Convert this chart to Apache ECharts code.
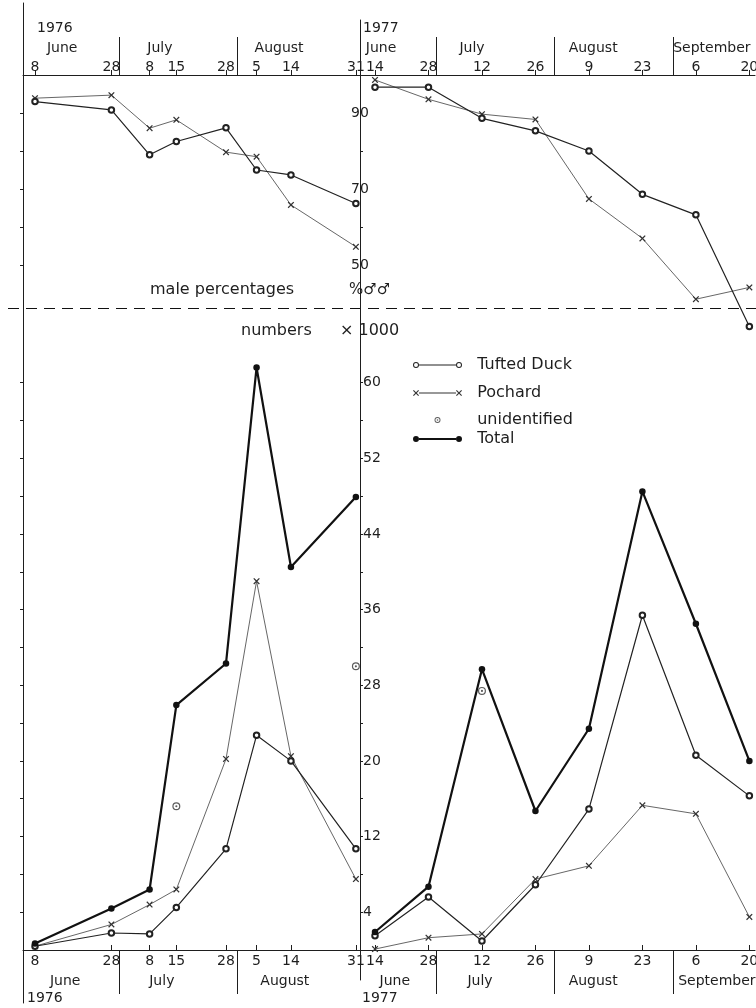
<!DOCTYPE html>
<html><head><meta charset="utf-8">
<script src="https://cdn.jsdelivr.net/npm/echarts@6/dist/echarts.min.js"></script>
<style>html,body{margin:0;padding:0;background:#fff}#chart{width:756px;height:1008px}</style>
</head><body><div id="chart"></div>
<script>
// ---------------- data ----------------
const dates1976 = ['1976-06-08','1976-06-28','1976-07-08','1976-07-15','1976-07-28','1976-08-05','1976-08-14','1976-08-31'];
const dates1977 = ['1977-06-14','1977-06-28','1977-07-12','1977-07-26','1977-08-09','1977-08-23','1977-09-06','1977-09-20'];

// male percentages
const male1976Tufted  = [93.0, 90.8, 79.0, 82.5, 86.1, 75.0, 73.7, 66.2];
const male1976Pochard = [93.9, 94.7, 86.0, 88.2, 79.7, 78.5, 65.8, 54.8];
const male1977Tufted  = [96.8, 96.8, 88.6, 85.3, 80.0, 68.6, 63.2, 33.8];
const male1977Pochard = [98.7, 93.6, 89.7, 88.3, 67.4, 57.0, 41.0, 44.1];

// numbers x 1000
const num1976Tufted  = [0.4, 1.8, 1.7, 4.5, 10.7, 22.7, 20.0, 10.7];
const num1976Pochard = [0.4, 2.7, 4.8, 6.4, 20.2, 39.0, 20.5, 7.5];
const num1976Total   = [0.7, 4.4, 6.4, 25.9, 30.3, 61.6, 40.5, 47.9];
const unidDates1976  = ['1976-07-15','1976-08-31'];
const unidValues1976 = [15.2, 30.0];

const num1977Tufted  = [1.5, 5.6, 0.95, 6.9, 14.9, 35.4, 20.6, 16.3];
const num1977Pochard = [0.1, 1.3, 1.7, 7.5, 8.9, 15.3, 14.4, 3.5];
const num1977Total   = [1.9, 6.7, 29.7, 14.7, 23.4, 48.5, 34.5, 20.0];
const unidDates1977  = ['1977-07-12'];
const unidValues1977 = [27.4];

// month-end separators
const monthEnds1976 = ['1976-06-30','1976-07-31'];
const monthEnds1977 = ['1977-06-30','1977-07-31','1977-08-31'];
const MONTH_NAMES = ['January','February','March','April','May','June','July','August','September','October','November','December'];

// tick labels
const pctTickLabels = [50, 70, 90];
const numTickLabels = [4, 12, 20, 28, 36, 44, 52, 60];

// ---------------- helpers ----------------
const FONT = 'DejaVu Sans';
const INK = '#1e1e1e';
const PX = 3.82; // px per day
function dayOf(s){ const p = s.split('-').map(Number); return (Date.UTC(p[0],p[1]-1,p[2]) - Date.UTC(p[0],5,1))/86400000; }
function dateOfDay(year, v){ return new Date(Date.UTC(year,5,1) + Math.round(v)*86400000); }
const days1976 = dates1976.map(dayOf);
const days1977 = dates1977.map(dayOf);
const zip = (xs, ys) => xs.map((x,i)=>[x, ys[i]]);

// layout
const L76 = 23, W76 = 337, L77 = 360, W77 = 395;
const min76 = days1976[0] - 12/PX, max76 = min76 + W76/PX;
const min77 = days1977[0] - 15/PX, max77 = min77 + W77/PX;
const monthLabelTop76 = [14.1, 39.7, 70.9];
const monthLabelBot76 = [14.9, 40.2, 72.4];
const monthLabelTop77 = [14.6, 38.4, 70.1, 101.2];
const monthLabelBot77 = [18.2, 40.5, 70.1, 102.5];

function daysAxis(gridIndex, position, year, min, max, days){
  return {type:'value', gridIndex, position, min, max,
    axisLine:{show:true, onZero:false, lineStyle:{color:INK, width:1}},
    axisTick:{show:true, customValues:days, length:5, inside: position==='bottom', lineStyle:{color:INK, width:1}},
    axisLabel:{show:true, customValues:days, margin: position==='top'?1:4, color:INK, fontFamily:FONT, fontSize:14,
      formatter: v => String(dateOfDay(year, v).getUTCDate())},
    splitLine:{show:false}};
}
function monthAxis(gridIndex, position, year, min, max, seps, labelDays){
  const top = position==='top';
  return {type:'value', gridIndex, position, min, max,
    axisLine:{show:false, onZero:false},
    axisTick:{show:true, customValues:seps.map(dayOf), length: top?38:44, inside:false, lineStyle:{color:INK, width:1}},
    axisLabel:{show:true, customValues:labelDays, margin: top?20:24, color:INK, fontFamily:FONT, fontSize:14,
      formatter: v => MONTH_NAMES[dateOfDay(year, v).getUTCMonth()]},
    splitLine:{show:false}};
}
function hiddenX(gridIndex){ return {type:'value', gridIndex, min:0, max:1, show:false}; }
function frameY(gridIndex){ return {type:'value', gridIndex, min:0, max:1, position:'left',
  axisLine:{show:true, onZero:false, lineStyle:{color:INK, width:1}}, axisTick:{show:false}, axisLabel:{show:false}, splitLine:{show:false}}; }

const X_SYM = 'path://M0,0.8L0.8,0L3,2.2L5.2,0L6,0.8L3.8,3L6,5.2L5.2,6L3,3.8L0.8,6L0,5.2L2.2,3Z';
const UNID_SYM = 'path://M3,0A3,3 0 1 1 3,6A3,3 0 1 1 3,0ZM3,0.9A2.1,2.1 0 1 0 3,5.1A2.1,2.1 0 1 0 3,0.9ZM3,2.2A0.8,0.8 0 1 1 3,3.8A0.8,0.8 0 1 1 3,2.2Z';

function xAt(ox){ return `M${ox},0.8L${ox+0.8},0L${ox+3},2.2L${ox+5.2},0L${ox+6},0.8L${ox+3.8},3L${ox+6},5.2L${ox+5.2},6L${ox+3},3.8L${ox+0.8},6L${ox},5.2L${ox+2.2},3Z`; }
function ringAt(cx){ return `M${cx},0A3,3 0 1 1 ${cx},6A3,3 0 1 1 ${cx},0ZM${cx},1A2,2 0 1 0 ${cx},5A2,2 0 1 0 ${cx},1Z`; }
function dotAt(cx){ return `M${cx},0A3,3 0 1 1 ${cx},6A3,3 0 1 1 ${cx},0Z`; }
const ICON_TUFTED = 'path://' + ringAt(3) + 'M6,2.4L43,2.4L43,3.6L6,3.6Z' + ringAt(46);
const ICON_POCHARD = 'path://' + xAt(0) + 'M6,2.6L43,2.6L43,3.4L6,3.4Z' + xAt(43);
const ICON_TOTAL = 'path://' + dotAt(3) + 'M6,2L43,2L43,4L6,4Z' + dotAt(46);
const ICON_UNID = 'path://M0,3L0,3ZM49,3L49,3Z' +
  'M24.5,0A3,3 0 1 1 24.5,6A3,3 0 1 1 24.5,0ZM24.5,0.9A2.1,2.1 0 1 0 24.5,5.1A2.1,2.1 0 1 0 24.5,0.9Z' +
  'M24.5,2.2A0.8,0.8 0 1 1 24.5,3.8A0.8,0.8 0 1 1 24.5,2.2Z';

const C_TUF = '#222', C_POC = '#555', C_TOT = '#111';
function tufted(xi, yi, data){ return {name:'Tufted Duck', type:'line', xAxisIndex:xi, yAxisIndex:yi, data,
  symbol:'emptyCircle', symbolSize:5.5, lineStyle:{color:C_TUF, width:1.2}, itemStyle:{color:C_TUF, borderWidth:1}, z:3}; }
function pochard(xi, yi, data){ return {name:'Pochard', type:'line', xAxisIndex:xi, yAxisIndex:yi, data,
  symbol:X_SYM, symbolSize:6.5, lineStyle:{color:C_POC, width:0.9}, itemStyle:{color:'#333', borderWidth:0}, z:2}; }
function total(xi, yi, data){ return {name:'Total', type:'line', xAxisIndex:xi, yAxisIndex:yi, data,
  symbol:'circle', symbolSize:6.5, lineStyle:{color:C_TOT, width:2.2}, itemStyle:{color:C_TOT, borderWidth:0}, z:4}; }
function unid(xi, yi, data){ return {name:'unidentified', type:'scatter', xAxisIndex:xi, yAxisIndex:yi, data,
  symbol:UNID_SYM, symbolSize:8, itemStyle:{color:'#333', borderWidth:0}, z:4}; }

function legendItem(name, icon, top){
  return {data:[{name, icon}], orient:'vertical', left:413, top, padding:0, itemWidth:49, itemHeight:6, itemGap:0,
    selectedMode:false, itemStyle:{borderWidth:0}, textStyle:{fontFamily:FONT, fontSize:16, color:INK},
    formatter: n => '  ' + n};
}
function txt(text, x, y, size){ return {type:'text', x, y, style:{text, fill:INK, font:`${size}px "${FONT}"`, verticalAlign:'middle', align:'left'}}; }

const gridBase = {show:false, containLabel:false, outerBoundsMode:'none'};
const option = {
  backgroundColor:'#ffffff',
  animation:false,
  grid:[
    Object.assign({left:L76, top:75, width:W76, height:266}, gridBase),
    Object.assign({left:L77, top:75, width:W77, height:266}, gridBase),
    Object.assign({left:L76, top:307, width:W76, height:643}, gridBase),
    Object.assign({left:L77, top:307, width:W77, height:643}, gridBase),
    Object.assign({left:L76, top:3, width:W76, height:1000}, gridBase),
    Object.assign({left:L77, top:20, width:W77, height:960}, gridBase)
  ],
  xAxis:[
    daysAxis(0,'top',1976,min76,max76,days1976),
    monthAxis(0,'top',1976,min76,max76,monthEnds1976,monthLabelTop76),
    daysAxis(1,'top',1977,min77,max77,days1977),
    monthAxis(1,'top',1977,min77,max77,monthEnds1977,monthLabelTop77),
    daysAxis(2,'bottom',1976,min76,max76,days1976),
    monthAxis(2,'bottom',1976,min76,max76,monthEnds1976,monthLabelBot76),
    daysAxis(3,'bottom',1977,min77,max77,days1977),
    monthAxis(3,'bottom',1977,min77,max77,monthEnds1977,monthLabelBot77),
    hiddenX(4), hiddenX(5)
  ],
  yAxis:[
    {type:'value', gridIndex:0, min:30, max:100, position:'left', axisLine:{show:false, onZero:false},
      axisTick:{show:true, customValues:[50,60,70,80,90], length:3, lineStyle:{color:INK}}, axisLabel:{show:false}, splitLine:{show:false}},
    {type:'value', gridIndex:1, min:30, max:100, position:'left', axisLine:{show:false, onZero:false},
      axisTick:{show:true, customValues:[60,80], length:3, inside:true, lineStyle:{color:INK}},
      axisLabel:{show:true, customValues:pctTickLabels, margin:0, align:'center', color:INK, fontFamily:FONT, fontSize:14}, splitLine:{show:false}},
    {type:'value', gridIndex:2, min:0, max:68, position:'left', axisLine:{show:false, onZero:false},
      axisTick:{show:true, customValues:[4,8,12,16,20,24,28,32,36,40,44,48,52,56,60], length:3, lineStyle:{color:INK}}, axisLabel:{show:false}, splitLine:{show:false}},
    {type:'value', gridIndex:3, min:0, max:68, position:'left', axisLine:{show:false, onZero:false},
      axisTick:{show:true, customValues:[4,8,12,16,20,24,28,32,36,40,44,48,52,56,60], length:3, inside:true, lineStyle:{color:INK}},
      axisLabel:{show:true, customValues:numTickLabels, inside:true, margin:3, color:INK, fontFamily:FONT, fontSize:14}, splitLine:{show:false}},
    frameY(4), frameY(5)
  ],
  legend:[
    legendItem('Tufted Duck', ICON_TUFTED, 357),
    legendItem('Pochard', ICON_POCHARD, 385),
    legendItem('unidentified', ICON_UNID, 412),
    legendItem('Total', ICON_TOTAL, 431)
  ],
  graphic:[
    txt('1976', 37, 28, 14),
    txt('1977', 363, 28, 14),
    txt('1976', 27, 998, 14),
    txt('1977', 362, 998, 14),
    txt('male percentages', 150, 290, 16),
    txt('%\u2642\u2642', 349, 290, 15),
    txt('numbers', 241, 331, 16),
    txt('\u00d7 1000', 340, 331, 16),
    {type:'line', shape:{x1:8, y1:308.5, x2:756, y2:308.5}, style:{stroke:'#111', lineWidth:1, lineDash:[11,7]}}
  ],
  series:[
    tufted(0,0,zip(days1976,male1976Tufted)),
    pochard(0,0,zip(days1976,male1976Pochard)),
    tufted(2,1,zip(days1977,male1977Tufted)),
    pochard(2,1,zip(days1977,male1977Pochard)),
    tufted(4,2,zip(days1976,num1976Tufted)),
    pochard(4,2,zip(days1976,num1976Pochard)),
    total(4,2,zip(days1976,num1976Total)),
    unid(4,2,zip(unidDates1976.map(dayOf),unidValues1976)),
    tufted(6,3,zip(days1977,num1977Tufted)),
    pochard(6,3,zip(days1977,num1977Pochard)),
    total(6,3,zip(days1977,num1977Total)),
    unid(6,3,zip(unidDates1977.map(dayOf),unidValues1977))
  ]
};
const chart = echarts.init(document.getElementById('chart'), null, {renderer:'canvas'});
chart.setOption(option);
</script>
</body></html>
